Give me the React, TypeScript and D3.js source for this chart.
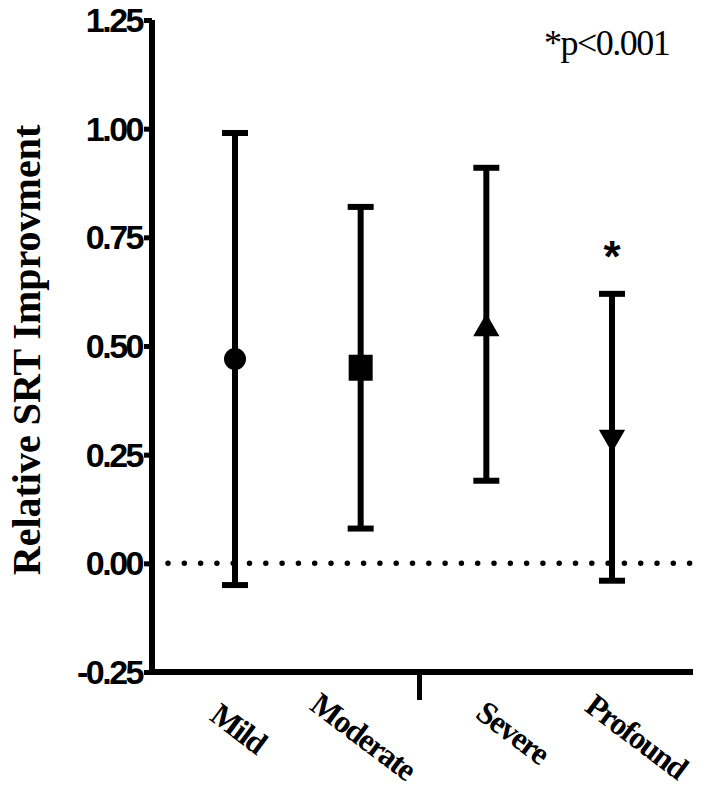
import React, { useEffect, useRef } from 'react';
import * as d3 from 'd3';

const categories = ['Mild', 'Moderate', 'Severe', 'Profound'];
const means = [0.47, 0.45, 0.54, 0.29];
const upper = [0.99, 0.82, 0.91, 0.62];
const lower = [-0.05, 0.08, 0.19, -0.04];
const markers = ['circle', 'square', 'triangle', 'triangleDown'];
const significant = [false, false, false, true];
const yTicks = [-0.25, 0, 0.25, 0.5, 0.75, 1.0, 1.25];

const W = 709;
const H = 803;

const App = () => {
  const ref = useRef<SVGSVGElement>(null);

  useEffect(() => {
    const svg = d3.select(ref.current);
    svg.selectAll('*').remove();

    const left = 152;
    const right = 693;
    const y = d3.scaleLinear().domain([-0.25, 1.25]).range([672, 20]);
    const x = d3.scalePoint().domain(categories).range([235, 612]);

    const tickFont = '"Liberation Sans Narrow", "Liberation Sans", Arial, sans-serif';
    const serif = '"Liberation Serif", "Times New Roman", serif';

    // y axis
    const yAxis = svg.append('g')
      .attr('transform', `translate(${left},0)`)
      .call(d3.axisLeft(y).tickValues(yTicks).tickFormat(d => (+d).toFixed(2)).tickSize(8).tickPadding(2));
    yAxis.select('.domain').attr('stroke', '#000').attr('stroke-width', 6).attr('d', `M0,${y(1.25)}V${y(-0.25)}`);
    yAxis.selectAll('.tick line').attr('stroke', '#000').attr('stroke-width', 5);
    yAxis.selectAll('.tick text')
      .attr('fill', '#000')
      .attr('font-family', tickFont)
      .attr('font-weight', 'bold')
      .attr('font-size', 34)
      .attr('letter-spacing', -2.5)
      .attr('dy', '0.34em');

    // x axis line + middle tick
    svg.append('line')
      .attr('x1', left - 3).attr('x2', right)
      .attr('y1', y(-0.25)).attr('y2', y(-0.25))
      .attr('stroke', '#000').attr('stroke-width', 6);
    svg.append('line')
      .attr('x1', (left + right) / 2 - 3).attr('x2', (left + right) / 2 - 3)
      .attr('y1', y(-0.25)).attr('y2', y(-0.25) + 28)
      .attr('stroke', '#000').attr('stroke-width', 5);

    // dotted zero line
    svg.append('line')
      .attr('x1', left + 16).attr('x2', 700)
      .attr('y1', y(0)).attr('y2', y(0))
      .attr('stroke', '#000').attr('stroke-width', 5.5)
      .attr('stroke-linecap', 'round')
      .attr('stroke-dasharray', '0 16.3');

    // error bars
    const g = svg.append('g');
    categories.forEach((c, i) => {
      const cx = x(c) as number;
      g.append('line')
        .attr('x1', cx).attr('x2', cx)
        .attr('y1', y(upper[i])).attr('y2', y(lower[i]))
        .attr('stroke', '#000').attr('stroke-width', 6);
      [upper[i], lower[i]].forEach(v => {
        g.append('line')
          .attr('x1', cx - 13).attr('x2', cx + 13)
          .attr('y1', y(v)).attr('y2', y(v))
          .attr('stroke', '#000').attr('stroke-width', 6);
      });
      const m = markers[i];
      const cy = y(means[i]);
      if (m === 'circle') {
        g.append('circle').attr('cx', cx).attr('cy', cy).attr('r', 11).attr('fill', '#000');
      } else if (m === 'square') {
        g.append('rect').attr('x', cx - 12).attr('y', cy - 13).attr('width', 24).attr('height', 26).attr('fill', '#000');
      } else {
        const sym = d3.symbol().type(d3.symbolTriangle).size(300);
        g.append('path')
          .attr('d', sym()!)
          .attr('transform', `translate(${cx},${cy})${m === 'triangleDown' ? ' rotate(180)' : ''}`)
          .attr('fill', '#000');
      }
      if (significant[i]) {
        g.append('text')
          .attr('x', cx).attr('y', y(upper[i]) - 22)
          .attr('text-anchor', 'middle')
          .attr('font-family', 'Liberation Sans, Arial, sans-serif')
          .attr('font-weight', 'bold')
          .attr('font-size', 44)
          .text('*');
      }
    });

    // x labels
    const offsets = [-3, -4, 20, 18];
    categories.forEach((c, i) => {
      const cx = (x(c) as number) + offsets[i];
      svg.append('text')
        .attr('transform', `translate(${cx},${737 + (c.length - 4) * 2}) rotate(37)`)
        .attr('text-anchor', 'middle')
        .attr('font-family', serif)
        .attr('font-weight', 'bold')
        .attr('font-size', 32)
        .attr('letter-spacing', -1.5)
        .text(c);
    });

    // y title
    svg.append('text')
      .attr('transform', `translate(40,${(y(1.25) + y(-0.25)) / 2 + 4}) rotate(-90)`)
      .attr('text-anchor', 'middle')
      .attr('font-family', serif)
      .attr('font-weight', 'bold')
      .attr('font-size', 40)
      .text('Relative SRT Improvment');

    // annotation
    svg.append('text')
      .attr('x', 544).attr('y', 55)
      .attr('font-family', serif)
      .attr('font-size', 36)
      .attr('letter-spacing', -1.5)
      .text('*p<0.001');
  }, []);

  return (
    <svg ref={ref} width={W} height={H} style={{ position: 'absolute', left: 0, top: 0, background: '#fff' }} />
  );
};

export default App;
